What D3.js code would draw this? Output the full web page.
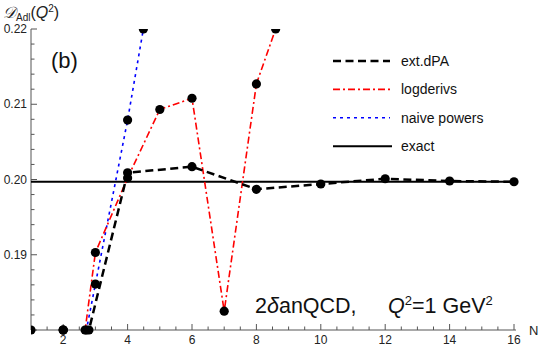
<!DOCTYPE html>
<html>
<head>
<meta charset="utf-8">
<script src="https://cdn.jsdelivr.net/npm/d3@7"></script>
<style>
  body { margin: 0; background: #fff; }
  text { font-family: "Liberation Sans", Arial, sans-serif; }
</style>
</head>
<body>
<div id="chart"></div>
<script>
// values (off-scale ones estimated so the lines leave the frame where they do)
var nDpa = [2, 4, 6, 8, 10, 12, 14, 16];
var extDpa = [0.1661, 0.2009, 0.2017, 0.1987, 0.1994, 0.2001, 0.1998, 0.1997];

var nLog = [1, 2, 3, 4, 5, 6, 7, 8, 9];
var logDerivs = [0.140, 0.1581, 0.1903, 0.2002, 0.2093, 0.2108, 0.1825, 0.2127, 0.2249];

var nNaive = [2, 3, 4, 5];
var naivePowers = [0.1643, 0.1861, 0.2079, 0.2326];

var exactValue = 0.1997;

var xTicks = [2, 4, 6, 8, 10, 12, 14, 16];
var yTicks = [0.19, 0.20, 0.21, 0.22];

var W = 542, H = 350;
var svg = d3.select('#chart').append('svg')
  .attr('width', W)
  .attr('height', H);

var x = d3.scaleLinear().domain([1, 16]).range([31, 514]);
var y = d3.scaleLinear().domain([0.18, 0.22]).range([330, 29]);
var axisCol = '#555';

var defs = svg.append('defs');
defs.append('clipPath').attr('id', 'lineclip').append('rect')
  .attr('x', x(1)).attr('y', y(0.22)).attr('width', W - x(1)).attr('height', y(0.18) - y(0.22));
defs.append('clipPath').attr('id', 'dotclip').append('rect')
  .attr('x', x(1)).attr('y', y(0.22)).attr('width', W - x(1)).attr('height', H - y(0.22));

// axes
var xAxis = svg.append('g').attr('transform', 'translate(0,' + y(0.18) + ')');
xAxis.append('line').attr('x1', x(1)).attr('x2', x(16) + 2).attr('stroke', axisCol);
xAxis.selectAll('.minor').data(d3.range(1.5, 16.01, 0.5)).enter().append('line')
  .attr('x1', function (d) { return x(d); }).attr('x2', function (d) { return x(d); })
  .attr('y1', 0).attr('y2', function (d) { return d % 2 === 0 ? -6 : -3.5; })
  .attr('stroke', axisCol);
xAxis.selectAll('text').data(xTicks).enter().append('text')
  .attr('x', function (d) { return x(d); }).attr('y', 14)
  .attr('text-anchor', 'middle').attr('font-size', 12).attr('fill', '#222')
  .text(function (d) { return d; });
svg.append('text').attr('x', 529).attr('y', 335).attr('font-size', 13).attr('fill', '#222').text('N');

var yAxis = svg.append('g').attr('transform', 'translate(' + x(1) + ',0)');
yAxis.append('line').attr('y1', y(0.18)).attr('y2', y(0.22)).attr('stroke', axisCol);
yAxis.selectAll('.minor').data(d3.range(0, 21)).enter().append('line')
  .attr('y1', function (d) { return y(0.18 + d * 0.002); })
  .attr('y2', function (d) { return y(0.18 + d * 0.002); })
  .attr('x1', 0).attr('x2', function (d) { return d % 5 === 0 ? 6 : 3.5; })
  .attr('stroke', axisCol);
yAxis.selectAll('text').data(yTicks).enter().append('text')
  .attr('x', -4).attr('y', function (d) { return y(d) + 4; })
  .attr('text-anchor', 'end').attr('font-size', 12).attr('fill', '#222')
  .text(function (d) { return d.toFixed(2); });

// axis title
var yt = svg.append('text').attr('x', 3).attr('y', 18).attr('fill', '#222');
yt.append('tspan').attr('font-size', 16).attr('font-family', 'DejaVu Serif, serif').attr('font-style', 'italic').text('\uD835\uDC9F');
yt.append('tspan').attr('font-size', 10).attr('dy', 3).text('Adl');
yt.append('tspan').attr('font-size', 16).attr('dy', -3).text('(');
yt.append('tspan').attr('font-size', 16).attr('font-style', 'italic').text('Q');
yt.append('tspan').attr('font-size', 10).attr('dy', -6).text('2');
yt.append('tspan').attr('font-size', 16).attr('dy', 6).text(')');

svg.append('text').attr('x', 51).attr('y', 68).attr('font-size', 22).attr('fill', '#111').text('(b)');

var lbl = svg.append('text').attr('x', 255).attr('y', 313).attr('font-size', 21.5).attr('fill', '#111');
lbl.append('tspan').text('2');
lbl.append('tspan').attr('font-style', 'italic').text('\u03B4');
lbl.append('tspan').text('anQCD,');
lbl.append('tspan').attr('x', 388).attr('font-style', 'italic').text('Q');
lbl.append('tspan').attr('font-size', 13).attr('dy', -8).text('2');
lbl.append('tspan').attr('dy', 8).text('=1 GeV');
lbl.append('tspan').attr('font-size', 13).attr('dy', -8).text('2');

// series
var series = [
  { name: 'ext.dPA', n: nDpa, v: extDpa, color: '#000', width: 2.5, dash: '8,4.5' },
  { name: 'logderivs', n: nLog, v: logDerivs, color: '#f00', width: 1.6, dash: '7,3,2,3' },
  { name: 'naive powers', n: nNaive, v: naivePowers, color: '#00f', width: 1.6, dash: '3,4' }
];

var line = d3.line()
  .x(function (d) { return x(d[0]); })
  .y(function (d) { return y(d[1]); });

var lo = y.domain()[0], hi = y.domain()[1];

// marker spots: in-range points, points under the frame sit on the axis, and where a line leaves the frame
function markerPoints(s) {
  var pts = [];
  s.n.forEach(function (n, i) {
    var v = s.v[i];
    if (v >= lo && v <= hi) pts.push([n, v]);
    else if (v < lo) pts.push([n, lo]);
    if (i > 0) {
      var n0 = s.n[i - 1], v0 = s.v[i - 1];
      [lo, hi].forEach(function (b) {
        if ((v0 - b) * (v - b) < 0) {
          var inside = (v0 >= lo && v0 <= hi) || (v >= lo && v <= hi);
          if (inside) pts.push([n0 + (b - v0) / (v - v0) * (n - n0), b]);
        }
      });
    }
  });
  return pts;
}

svg.append('line')
  .attr('x1', x(1)).attr('x2', x(16) + 3)
  .attr('y1', y(exactValue)).attr('y2', y(exactValue))
  .attr('stroke', '#000').attr('stroke-width', 2);

var plot = svg.append('g').attr('clip-path', 'url(#lineclip)');
series.slice().reverse().forEach(function (s) {
  plot.append('path')
    .datum(s.n.map(function (n, i) { return [n, s.v[i]]; }))
    .attr('d', line)
    .attr('fill', 'none')
    .attr('stroke', s.color)
    .attr('stroke-width', s.width)
    .attr('stroke-dasharray', s.dash);
});

var dots = svg.append('g').attr('clip-path', 'url(#dotclip)');
series.forEach(function (s) {
  dots.selectAll(null).data(markerPoints(s)).enter().append('circle')
    .attr('cx', function (d) { return x(d[0]); })
    .attr('cy', function (d) { return y(d[1]); })
    .attr('r', 4.6)
    .attr('fill', '#000');
});

// legend
var legendItems = [
  { name: 'ext.dPA', color: '#000', width: 2.5, dash: '8,4.5' },
  { name: 'logderivs', color: '#f00', width: 1.6, dash: '7,3,2,3' },
  { name: 'naive powers', color: '#00f', width: 1.6, dash: '3,4' },
  { name: 'exact', color: '#000', width: 2, dash: null }
];
var leg = svg.append('g');
legendItems.forEach(function (d, i) {
  var ly = 61 + i * 28.4;
  leg.append('line')
    .attr('x1', 333).attr('x2', d.dash ? 390 : 392)
    .attr('y1', ly).attr('y2', ly)
    .attr('stroke', d.color).attr('stroke-width', d.width)
    .attr('stroke-dasharray', d.dash);
  leg.append('text').attr('x', 401).attr('y', ly + 5)
    .attr('font-size', 14).attr('fill', '#111').text(d.name);
});
</script>
</body>
</html>
